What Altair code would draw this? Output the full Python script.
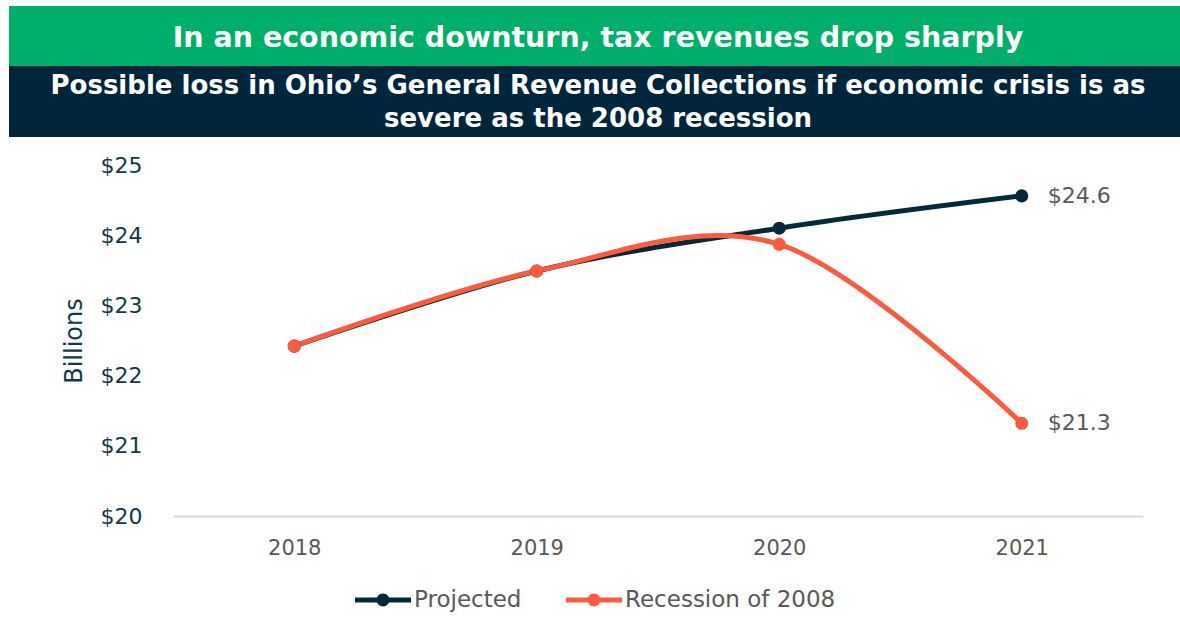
import altair as alt
import pandas as pd

YEARS = ["2018", "2019", "2020", "2021"]
PROJECTED = [22.42, 23.49, 24.10, 24.56]
RECESSION = [22.42, 23.49, 23.87, 21.32]
SERIES = ["Projected", "Recession of 2008"]
COLORS = ["#03293a", "#ff5a3d"]
Y_TICKS = [20, 21, 22, 23, 24, 25]
TITLE = "In an economic downturn, tax revenues drop sharply"
SUBTITLE = ["Possible loss in Ohio\u2019s General Revenue Collections if economic crisis is as",
            "severe as the 2008 recession"]

FONT = "DejaVu Sans"
W, H = 970, 351
PAD_L, PAD_T = 173, 165

rows = []
for s, vals in zip(SERIES, [PROJECTED, RECESSION]):
    for yr, v in zip(YEARS, vals):
        rows.append({"year": yr, "series": s, "value": v, "last": yr == YEARS[-1]})
df = pd.DataFrame(rows)

LEG_PATH = ("M-1,-0.09L1,-0.09L1,0.09L-1,0.09Z "
            "M0.23,0A0.23,0.23 0 1,1 -0.23,0A0.23,0.23 0 1,1 0.23,0Z")

color = alt.Color(
    "series:N",
    scale=alt.Scale(domain=SERIES, range=COLORS),
    legend=alt.Legend(
        title=None, orient="none", direction="horizontal",
        legendX=182, legendY=407,
        symbolType=LEG_PATH, symbolSize=3136, symbolStrokeWidth=0,
        labelFontSize=23, labelColor="#595959", labelFont=FONT,
        labelOffset=3, columnPadding=44, labelLimit=400,
    ),
)

x = alt.X(
    "year:N",
    scale=alt.Scale(domain=YEARS),
    axis=alt.Axis(
        title=None, labelAngle=0, labelFontSize=21, labelColor="#595959",
        labelFont=FONT, domainColor="#d9d9d9", domainWidth=2, ticks=False,
        labelPadding=21, grid=False,
    ),
)
y = alt.Y(
    "value:Q",
    scale=alt.Scale(domain=[20, 25], nice=False, zero=False),
    axis=alt.Axis(
        values=Y_TICKS, format="$d", labelFontSize=22, labelColor="#12394a",
        labelFont=FONT, domain=False, ticks=False, grid=False, labelPadding=31,
        title="Billions", titleFontSize=24, titleFontWeight="normal",
        titleColor="#12394a", titleFont=FONT, titleX=-87, titleY=175.5,
    ),
)

base = alt.Chart(df)
lines = base.mark_line(interpolate="cardinal", strokeWidth=5).encode(
    x=x, y=y, color=color, order=alt.Order("year:N")
)
points = base.mark_point(filled=True, size=170, opacity=1).encode(
    x=x, y=y, color=color
)
labels = base.transform_filter(alt.datum.last).mark_text(
    align="left", baseline="middle", dx=26, fontSize=22, color="#595959", font=FONT
).encode(x=x, y=y, text=alt.Text("value:Q", format="$.1f"))

one = pd.DataFrame({"k": [0]})
green = alt.Chart(one).mark_rect(color="#00b06a").encode(
    x=alt.value(9 - PAD_L), x2=alt.value(1180 - PAD_L),
    y=alt.value(6 - PAD_T), y2=alt.value(66 - PAD_T),
)
navy = alt.Chart(one).mark_rect(color="#01263c").encode(
    x=alt.value(9 - PAD_L), x2=alt.value(1180 - PAD_L),
    y=alt.value(66 - PAD_T), y2=alt.value(137 - PAD_T),
)
title_txt = alt.Chart(one).mark_text(
    text=TITLE, fontSize=28.5, fontWeight="bold", color="white", font=FONT,
    align="center", baseline="middle",
).encode(x=alt.value(598 - PAD_L), y=alt.value(38 - PAD_T))
sub1 = alt.Chart(one).mark_text(
    text=SUBTITLE[0], fontSize=26, fontWeight="bold", color="white", font=FONT,
    align="center", baseline="middle",
).encode(x=alt.value(598 - PAD_L), y=alt.value(86 - PAD_T))
sub2 = alt.Chart(one).mark_text(
    text=SUBTITLE[1], fontSize=26, fontWeight="bold", color="white", font=FONT,
    align="center", baseline="middle",
).encode(x=alt.value(598 - PAD_L), y=alt.value(119 - PAD_T))

chart = alt.layer(green, navy, title_txt, sub1, sub2, lines, points, labels).properties(
    width=W, height=H,
    background="white",
    autosize=alt.AutoSizeParams(type="none"),
    padding={"left": PAD_L, "top": PAD_T, "right": 1180 - PAD_L - W, "bottom": 635 - PAD_T - H},
).configure_view(stroke=None, strokeWidth=0)

chart.save("out.html", embed_options={"renderer": "svg", "actions": False})
